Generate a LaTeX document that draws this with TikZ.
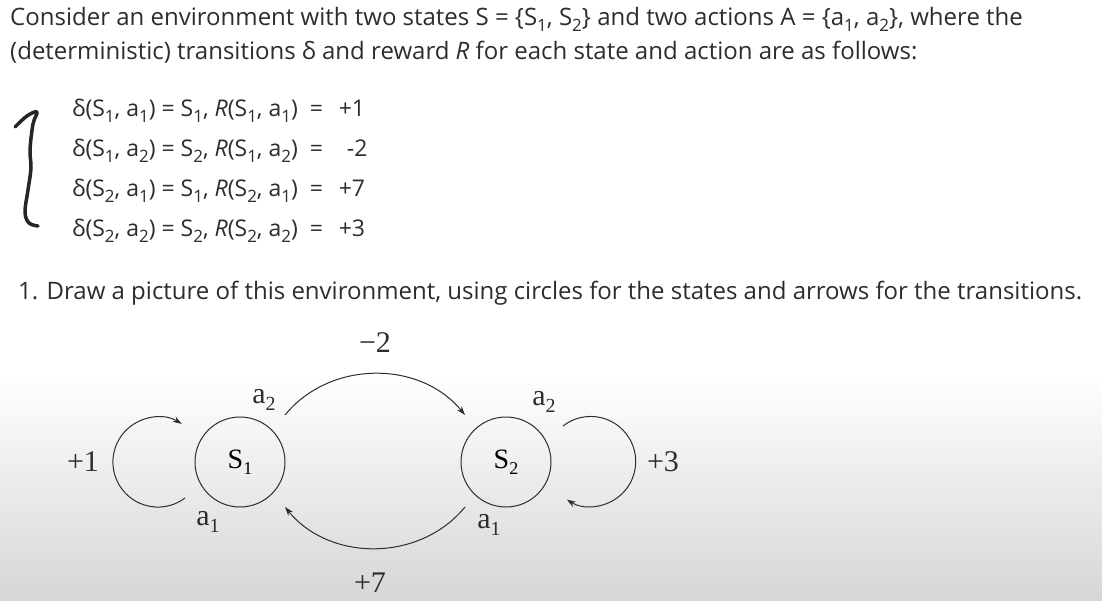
\documentclass[tikz,border=0pt]{standalone}
\usepackage{fontspec}
\setmainfont{Liberation Serif}
\newfontfamily\ui{Open Sans}
\usetikzlibrary{arrows.meta}
\newcommand\lo[2]{\raisebox{-0.22em}{\fontsize{#1}{#1}\selectfont #2}}
\definecolor{ink}{RGB}{45,45,45}
\definecolor{bggray}{RGB}{214,214,214}
\begin{document}
\begin{tikzpicture}[x=1pt,y=-1pt,
  para/.style={anchor=base west,inner sep=0pt,text=ink,font=\ui\fontsize{24}{28}\selectfont},
  eq/.style={anchor=base west,inner sep=0pt,text=ink,font=\ui\fontsize{23}{26}\selectfont},
  state/.style={circle,draw=ink,line width=1pt,minimum size=90pt,inner sep=0pt,outer sep=0pt,font=\fontsize{28}{28}\selectfont},
  lab/.style={inner sep=0pt,text=ink,font=\fontsize{30}{30}\selectfont},
  edge/.style={draw=ink,line width=1pt,-{Stealth[length=9pt,width=6pt]}},
  brace/.style={draw=black!85,line width=3.5pt,line cap=round,line join=round}]
\useasboundingbox (0,0) rectangle (1102,601);
\fill[white] (0,0) rectangle (1102,376);
\shade[top color=white,bottom color=bggray] (0,375) rectangle (1102,601);
% text
\node[para] (t1) at (10,26) {Consider an environment with two states S = \{S\lo{17}{1}, S\lo{17}{2}\} and two actions A = \{a\lo{17}{1}, a\lo{17}{2}\}, where the};
\node[para] (t2) at (10,60) {(deterministic) transitions δ and reward \textit{R} for each state and action are as follows:};
\node[eq] (e1) at (72,117) {δ(S\lo{17}{1}, a\lo{17}{1}) = S\lo{17}{1}, \textit{R}(S\lo{17}{1}, a\lo{17}{1}) \ = \ \,+1};
\node[eq] (e2) at (72,157) {δ(S\lo{17}{1}, a\lo{17}{2}) = S\lo{17}{2}, \textit{R}(S\lo{17}{1}, a\lo{17}{2}) \ = \ \ \ -2};
\node[eq] (e3) at (72,197) {δ(S\lo{17}{2}, a\lo{17}{1}) = S\lo{17}{1}, \textit{R}(S\lo{17}{2}, a\lo{17}{1}) \ = \ \,+7};
\node[eq] (e4) at (72,237) {δ(S\lo{17}{2}, a\lo{17}{2}) = S\lo{17}{2}, \textit{R}(S\lo{17}{2}, a\lo{17}{2}) \ = \ \,+3};
\draw[brace] plot[smooth,tension=0.6] coordinates {(15,127) (27,116) (37,112) (33,124) (30,150) (31,168) (28,190) (25,212) (29,223) (38,226)};
\node[para] (t3) at (18,300) {1. Draw a picture of this environment, using circles for the states and arrows for the transitions.};
% diagram
\node[state] (s1) at (240,462) {S\lo{18}{1}};
\node[state] (s2) at (506,462) {S\lo{18}{2}};
\draw[edge] ([shift={(45,-47)}]s1.center) .. controls +(45,-55) and +(-45,-55) .. ([shift={(-41,-47)}]s2.center);
\draw[edge] ([shift={(-41,45)}]s2.center) .. controls +(-45,55) and +(45,55) .. ([shift={(45,45)}]s1.center);
\draw[edge] ([shift={(-55,36)}]s1.center) arc[start angle=53,end angle=302,radius=45];
\draw[edge] ([shift={(57,-36)}]s2.center) arc[start angle=-128,end angle=122,radius=45];
\node[lab] (m2) at (375,343) {−2};
\node[lab] (p7) at (370,583) {+7};
\node[lab] (p1) at (83,462) {+1};
\node[lab] (p3) at (663,462) {+3};
\node[lab] (a21) at (264,400) {a\lo{20}{2}};
\node[lab] (a11) at (208,522) {a\lo{20}{1}};
\node[lab] (a22) at (544,402) {a\lo{20}{2}};
\node[lab] (a12) at (489,525) {a\lo{20}{1}};
\end{tikzpicture}
\end{document}
